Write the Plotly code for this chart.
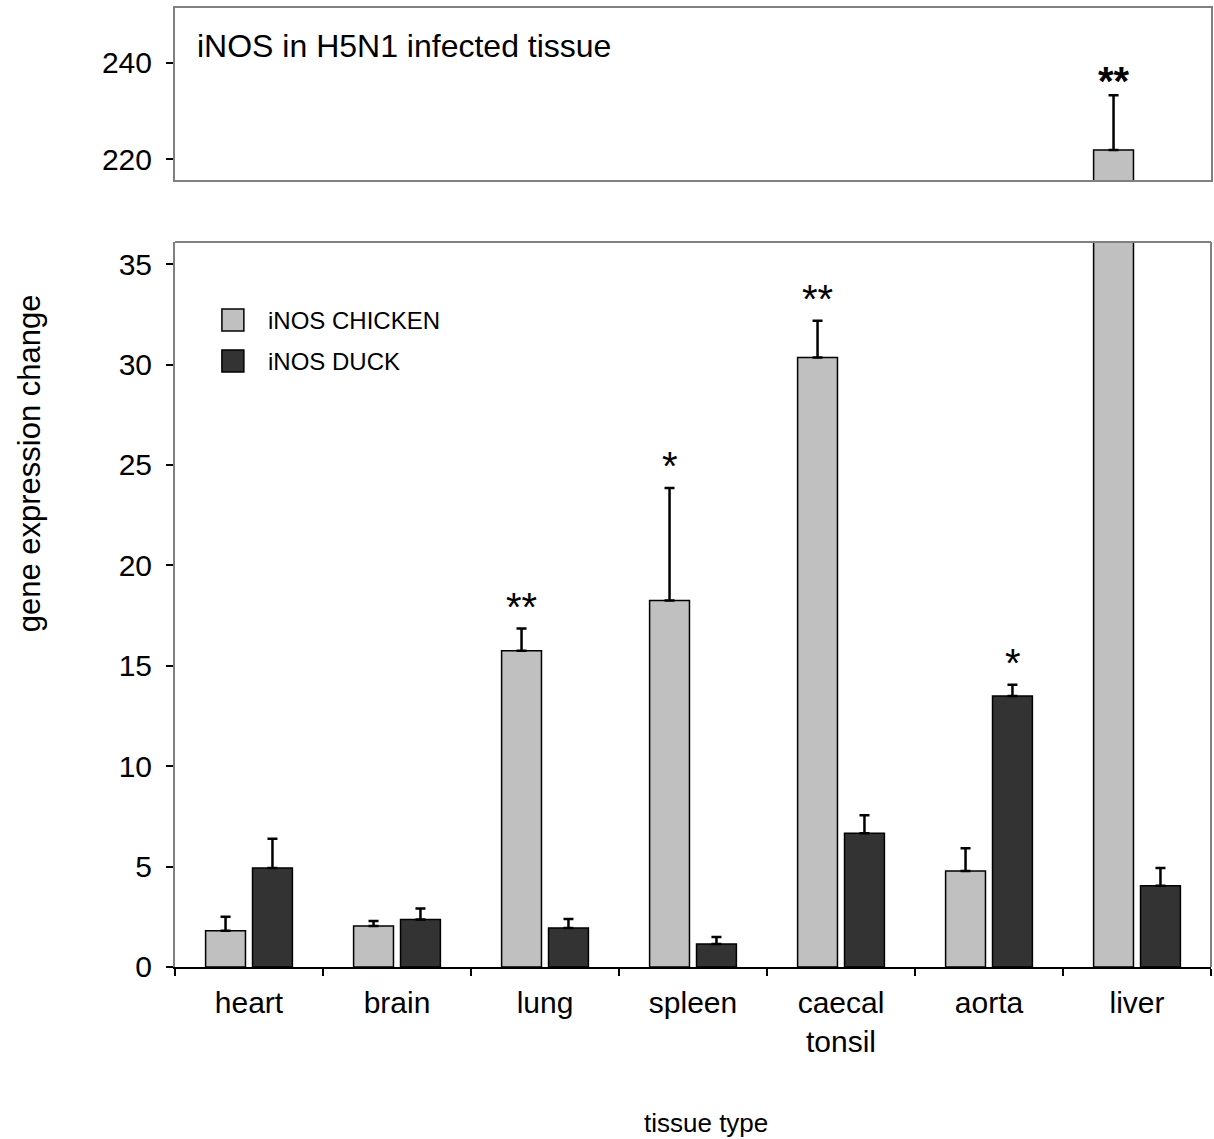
import plotly.graph_objects as go
from plotly.subplots import make_subplots

tissues = ["heart", "brain", "lung", "spleen", "caecal<br>tonsil", "aorta", "liver"]
chicken = [1.8, 2.04, 15.75, 18.25, 30.35, 4.78, 221.9]
chicken_err = [0.7, 0.25, 1.1, 5.6, 1.83, 1.13, 11.4]
duck = [4.93, 2.36, 1.94, 1.15, 6.66, 13.5, 4.05]
duck_err = [1.45, 0.55, 0.45, 0.35, 0.9, 0.55, 0.88]
chicken_sig = ["", "", "**", "*", "**", "", "**"]
duck_sig = ["", "", "", "", "", "*", ""]

CH_COL = "#C0C0C0"
DU_COL = "#333333"
FRAME = "#808080"
FONT = "Liberation Sans, Arial, sans-serif"

fig = make_subplots(rows=2, cols=1, shared_xaxes=False, vertical_spacing=0.0)

for row in (1, 2):
    fig.add_trace(go.Bar(x=tissues, y=chicken, name="iNOS CHICKEN",
                         marker=dict(color=CH_COL, line=dict(color="black", width=1.5)),
                         error_y=dict(type="data", array=chicken_err, arrayminus=[0]*7, symmetric=False,
                                      color="black", thickness=2.5, width=5),
                         showlegend=False), row=row, col=1)
    fig.add_trace(go.Bar(x=tissues, y=duck, name="iNOS DUCK",
                         marker=dict(color=DU_COL, line=dict(color="black", width=1.5)),
                         error_y=dict(type="data", array=duck_err, arrayminus=[0]*7, symmetric=False,
                                      color="black", thickness=2.5, width=5),
                         showlegend=False), row=row, col=1)

fig.update_layout(
    width=1214, height=1139,
    margin=dict(l=175, r=1, t=8, b=172),
    paper_bgcolor="white", plot_bgcolor="white",
    barmode="group", bargap=0.366, bargroupgap=0.15,
    font=dict(family=FONT, color="black"),
    showlegend=False,
)

# top panel (row 1)
fig.update_xaxes(row=1, col=1, showticklabels=False, ticks="", showline=True, linecolor=FRAME,
                 linewidth=2, mirror=True, showgrid=False, matches="x2")
fig.update_yaxes(row=1, col=1, range=[215.7, 251.4], tickvals=[220, 240], ticks="outside",
                 ticklen=7, tickcolor="black", tickwidth=1.5, showline=True, linecolor=FRAME,
                 linewidth=2, mirror=True, showgrid=False, zeroline=False,
                 tickfont=dict(size=30, family=FONT), ticklabelstandoff=8,
                 domain=[0.8207, 1.0])
# bottom panel (row 2)
fig.update_xaxes(row=2, col=1, ticks="outside", tickson="boundaries", ticklen=7, tickcolor="black",
                 tickwidth=1.5, showline=True, linecolor="black", linewidth=2, showgrid=False,
                 tickfont=dict(size=30, family=FONT), ticklabelstandoff=8)
fig.update_yaxes(row=2, col=1, range=[0, 36.1], tickvals=[0, 5, 10, 15, 20, 25, 30, 35], ticks="outside",
                 ticklen=7, tickcolor="black", tickwidth=1.5, showline=True, linecolor=FRAME,
                 linewidth=2, showgrid=False, zeroline=False,
                 tickfont=dict(size=30, family=FONT), ticklabelstandoff=8,
                 domain=[0.0, 0.756])

# frame top/right of bottom panel
fig.add_shape(type="line", xref="x2 domain", yref="y2 domain", x0=0, x1=1, y0=1, y1=1,
              line=dict(color=FRAME, width=2))
fig.add_shape(type="line", xref="x2 domain", yref="y2 domain", x0=1, x1=1, y0=0, y1=1,
              line=dict(color=FRAME, width=2))

# significance markers
for i, t in enumerate(tissues):
    for sig, vals, errs, off in ((chicken_sig[i], chicken, chicken_err, -0.5), (duck_sig[i], duck, duck_err, 0.5)):
        if not sig:
            continue
        top = vals[i] + errs[i]
        if top > 100:
            fig.add_annotation(x=t, y=top, xref="x", yref="y", text="<b>" + sig + "</b>",
                               showarrow=False, yanchor="bottom", xshift=off*47, yshift=-10,
                               font=dict(size=40, family=FONT))
        else:
            fig.add_annotation(x=t, y=top, xref="x2", yref="y2", text=sig,
                               showarrow=False, yanchor="bottom", xshift=off*47, yshift=-2,
                               font=dict(size=40, family=FONT))

# panel title
fig.add_annotation(x=(195-175)/1038, y=(967-46)/959, xref="paper", yref="paper", text="iNOS in H5N1 infected tissue",
                   showarrow=False, xanchor="left", yanchor="middle", font=dict(size=32, family=FONT))

# legend (manual)
legend_items = [("iNOS CHICKEN", CH_COL), ("iNOS DUCK", DU_COL)]
for k, (label, col) in enumerate(legend_items):
    yc = 320 + k * 41
    fig.add_shape(type="rect", xref="paper", yref="paper",
                  x0=(222-175)/1038, x1=(244-175)/1038,
                  y0=(967 - yc - 11)/959, y1=(967 - yc + 11)/959,
                  line=dict(color="black", width=1.5), fillcolor=col)
    fig.add_annotation(x=(266-175)/1038, y=(967 - yc)/959, xref="paper", yref="paper", text=label,
                       showarrow=False, xanchor="left", yanchor="middle", font=dict(size=24, family=FONT))

# axis titles
fig.add_annotation(x=-146/1038, y=(967-463)/959, xref="paper", yref="paper", text="gene expression change",
                   textangle=-90, showarrow=False, xanchor="center", yanchor="middle",
                   font=dict(size=31, family=FONT))
fig.add_annotation(x=(707-175)/1038, y=-(1123-967)/959, xref="paper", yref="paper", text="tissue type",
                   showarrow=False, xanchor="center", yanchor="middle", font=dict(size=26, family=FONT))

fig.write_html("out.html")
